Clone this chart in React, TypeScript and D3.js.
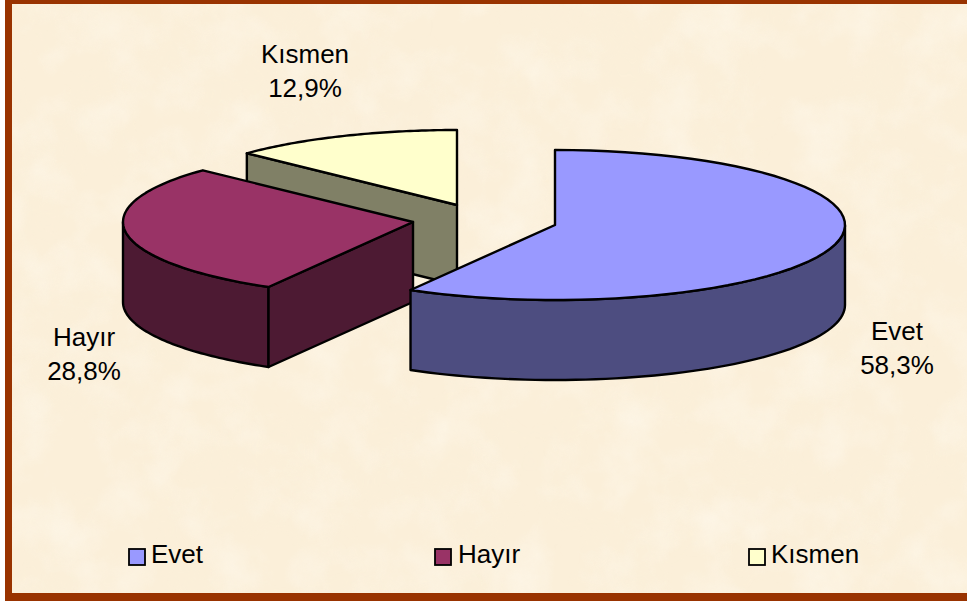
import React from 'react'
import * as d3 from 'd3'

const categories = ['Evet', 'Hayır', 'Kısmen']
const percents = [58.3, 28.8, 12.9]
const topColors = ['#9999ff', '#993366', '#ffffcc']
const sideColors = ['#4d4d80', '#4d1a33', '#808066']

const W = 967
const H = 601
const rx = 290
const ry = 75
const depth = 80

// exploded slice centres
const centers: [number, number][] = [[555, 225], [413, 222], [457, 205]]
const labelPos: [number, number][] = [[897, 332], [84, 338], [305, 55]]
const legendX = [129, 435, 749]

const slices = d3.pie<number>().sort(null).value(d => d)(percents)
const fmt = (v: number) => `${v.toFixed(1).replace('.', ',')}%`

const line = d3.line()

const pt = (c: [number, number], a: number, dy = 0): [number, number] => [
  c[0] + rx * Math.sin(a),
  c[1] - ry * Math.cos(a) + dy,
]

const arcPts = (c: [number, number], a0: number, a1: number, dy = 0) =>
  d3.range(0, 61).map(i => pt(c, a0 + ((a1 - a0) * i) / 60, dy))

const topFace = (c: [number, number], a0: number, a1: number) =>
  line([c, ...arcPts(c, a0, a1)]) + 'Z'

// curved outer wall between two angles
const wall = (c: [number, number], a0: number, a1: number) =>
  line([...arcPts(c, a0, a1), ...arcPts(c, a1, a0, depth)]) + 'Z'

// flat cut face from the centre out to one angle
const cut = (c: [number, number], a: number) => {
  const p = pt(c, a)
  return line([c, p, [p[0], p[1] + depth], [c[0], c[1] + depth]]) + 'Z'
}

const Slice = ({ i }: { i: number }) => {
  const s = slices[i]
  const c = centers[i]
  const side = { fill: sideColors[i], stroke: '#000', strokeWidth: 2.4, strokeLinejoin: 'round' as const }
  return (
    <g>
      {i === 0 && <path d={wall(c, Math.PI / 2, s.endAngle)} {...side} />}
      {i === 1 && <path d={wall(c, s.startAngle, (3 * Math.PI) / 2)} {...side} />}
      {i === 1 && <path d={cut(c, s.startAngle)} {...side} />}
      {i === 2 && <path d={cut(c, s.startAngle)} {...side} />}
      <path d={topFace(c, s.startAngle, s.endAngle)} fill={topColors[i]} stroke="#000" strokeWidth={2.4} strokeLinejoin="round" />
    </g>
  )
}

export default function App() {
  return (
    <svg
      width={W}
      height={H}
      viewBox={`0 0 ${W} ${H}`}
      style={{ position: 'absolute', left: 0, top: 0 }}
      fontFamily="'Liberation Sans', Arial, sans-serif"
    >
      <defs>
        <filter id="blotch" x="0" y="0" width="100%" height="100%">
          <feTurbulence type="fractalNoise" baseFrequency="0.012" numOctaves={3} seed={7} />
          <feColorMatrix
            type="matrix"
            values="0 0 0 0 0.96  0 0 0 0 0.87  0 0 0 0 0.7  2 0 0 0 -0.85"
          />
        </filter>
        <filter id="light" x="0" y="0" width="100%" height="100%">
          <feTurbulence type="fractalNoise" baseFrequency="0.02" numOctaves={5} seed={21} />
          <feColorMatrix
            type="matrix"
            values="0 0 0 0 1  0 0 0 0 0.97  0 0 0 0 0.9  0 2 0 0 -0.85"
          />
        </filter>
      </defs>
      <rect width={W} height={H} fill="#fff" />
      <rect x={5} y={0} width={W - 5} height={H} fill="#993300" />
      <rect x={12} y={4} width={W - 12} height={589} fill="#fbefd9" />
      <rect x={12} y={4} width={W - 12} height={589} filter="url(#blotch)" opacity={0.4} />
      <rect x={12} y={4} width={W - 12} height={589} filter="url(#light)" opacity={0.45} />

      {[2, 1, 0].map(i => (
        <Slice key={categories[i]} i={i} />
      ))}

      <g fontSize={26} fill="#000" textAnchor="middle">
        {categories.map((name, i) => (
          <text key={name} x={labelPos[i][0]} y={labelPos[i][1] + 8}>
            <tspan x={labelPos[i][0]}>{name}</tspan>
            <tspan x={labelPos[i][0]} dy={34}>{fmt(percents[i])}</tspan>
          </text>
        ))}
      </g>

      <g>
        {categories.map((name, i) => (
          <g key={name}>
            <rect x={legendX[i]} y={549} width={16} height={16} fill={topColors[i]} stroke="#000" strokeWidth={1.8} />
            <text x={legendX[i] + (i === 1 ? 23 : 22)} y={563} fontSize={26} fill="#000">{name}</text>
          </g>
        ))}
      </g>
    </svg>
  )
}
